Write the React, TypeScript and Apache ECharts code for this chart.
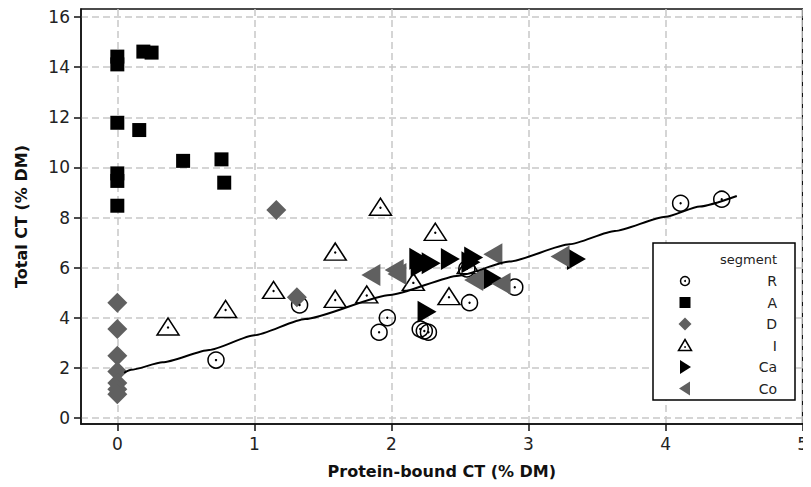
import React, { useEffect, useRef } from "react";
import * as echarts from "echarts";

// Protein-bound CT vs total CT (% DM), grouped by segment
const rPoints: [number, number][] = [
  [0.72, 2.31], [1.33, 4.51], [1.91, 3.42], [1.97, 4.0], [2.21, 3.55],
  [2.24, 3.47], [2.27, 3.42], [2.55, 5.95], [2.57, 4.6], [2.9, 5.22],
  [4.11, 8.57], [4.41, 8.73],
];
const aPoints: [number, number][] = [
  [0, 14.42], [0, 14.11], [0, 11.78], [0, 9.76], [0, 9.46], [0, 8.47],
  [0.19, 14.62], [0.25, 14.58], [0.16, 11.49], [0.48, 10.26], [0.76, 10.32],
  [0.78, 9.39],
];
const dPoints: [number, number][] = [
  [0, 4.6], [0, 3.55], [0, 2.48], [0, 1.85], [0, 1.4], [0, 1.15], [0, 0.95],
  [1.16, 8.3], [1.31, 4.82],
];
const iPoints: [number, number][] = [
  [0.37, 3.65], [0.79, 4.35], [1.14, 5.11], [1.59, 6.64], [1.59, 4.75],
  [1.82, 4.93], [1.92, 8.43], [2.16, 5.43], [2.32, 7.43], [2.42, 4.86],
  [2.56, 6.1],
];
const caPoints: [number, number][] = [
  [2.2, 6.35], [2.21, 6.05], [2.29, 6.17], [2.43, 6.34], [2.58, 6.21],
  [2.6, 6.4], [2.74, 5.57], [2.26, 4.24], [3.35, 6.34],
];
const coPoints: [number, number][] = [
  [1.85, 5.71], [2.02, 5.91], [2.04, 5.75], [2.74, 6.53], [2.6, 5.51],
  [2.8, 5.36], [3.23, 6.44],
];
// fitted trend
const fitLine: [number, number][] = [
  [0.05, 1.8], [0.1, 1.92], [0.33, 2.22], [0.67, 2.71], [1.0, 3.3],
  [1.37, 3.95], [1.99, 4.91], [2.49, 5.68], [2.86, 6.24], [3.3, 6.93],
  [3.63, 7.46], [4.0, 8.03], [4.25, 8.44], [4.52, 8.86],
];

const xTicks = [0, 1, 2, 3, 4, 5];
const yTicks = [0, 2, 4, 6, 8, 10, 12, 14, 16];
const segments = ["R", "A", "D", "I", "Ca", "Co"];

const FONT = "DejaVu Sans";
const GRAY = "#606060";
const RIGHT_TRI = "path://M0,0L10,6L0,12Z";
const LEFT_TRI = "path://M10,0L0,6L10,12Z";

function legendGraphic() {
  const left = 653;
  const top = 243;
  const symX = 685;
  const textX = 777;
  const row0 = 281;
  const step = 21.5;
  const els: any[] = [
    {
      type: "rect",
      shape: { x: left, y: top, width: 142, height: 157 },
      style: { fill: "#fff", stroke: "#000", lineWidth: 1.5 },
      z: 100,
    },
    {
      type: "text",
      x: textX,
      y: 259,
      style: { text: "segment", font: `13px "${FONT}"`, fill: "#222", align: "right", verticalAlign: "middle" },
      z: 101,
    },
  ];
  segments.forEach((name, i) => {
    const cy = row0 + i * step;
    els.push({
      type: "text",
      x: textX,
      y: cy,
      style: { text: name, font: `14px "${FONT}"`, fill: "#222", align: "right", verticalAlign: "middle" },
      z: 101,
    });
    let sym: any[] = [];
    if (name === "R") {
      sym = [
        { type: "circle", shape: { cx: symX, cy, r: 4.5 }, style: { fill: "none", stroke: "#000", lineWidth: 1.5 } },
        { type: "circle", shape: { cx: symX, cy, r: 1 }, style: { fill: "#000" } },
      ];
    } else if (name === "A") {
      sym = [{ type: "rect", shape: { x: symX - 5.5, y: cy - 5.5, width: 11, height: 11 }, style: { fill: "#000" } }];
    } else if (name === "D") {
      sym = [{ type: "polygon", shape: { points: [[symX, cy - 6.5], [symX + 6.5, cy], [symX, cy + 6.5], [symX - 6.5, cy]] }, style: { fill: GRAY } }];
    } else if (name === "I") {
      sym = [
        { type: "polygon", shape: { points: [[symX, cy - 6], [symX + 6.5, cy + 5], [symX - 6.5, cy + 5]] }, style: { fill: "none", stroke: "#000", lineWidth: 1.5 } },
        { type: "circle", shape: { cx: symX, cy: cy + 1.5, r: 0.9 }, style: { fill: "#000" } },
      ];
    } else if (name === "Ca") {
      sym = [{ type: "polygon", shape: { points: [[symX - 5, cy - 7], [symX + 6, cy], [symX - 5, cy + 7]] }, style: { fill: "#000" } }];
    } else {
      sym = [{ type: "polygon", shape: { points: [[symX + 5, cy - 7], [symX - 6, cy], [symX + 5, cy + 7]] }, style: { fill: GRAY } }];
    }
    sym.forEach((s) => els.push({ ...s, z: 101 }));
  });
  return els;
}

export default function App() {
  const ref = useRef<HTMLDivElement>(null);

  useEffect(() => {
    if (!ref.current) return;
    const chart = echarts.init(ref.current, undefined, { renderer: "svg" });

    const dotSeries = (data: [number, number][], offsetY: number) => ({
      type: "scatter",
      data,
      symbol: "circle",
      symbolSize: 2.4,
      symbolOffset: [0, offsetY],
      itemStyle: { color: "#000", opacity: 1 },
      silent: true,
      z: 4,
    });

    chart.setOption({
      animation: false,
      backgroundColor: "#fff",
      grid: {
        left: 81,
        top: 9,
        width: 728,
        height: 415,
        show: true,
        borderColor: "#111",
        borderWidth: 1.5,
        containLabel: false,
      },
      xAxis: {
        type: "value",
        min: -0.265,
        max: 5,
        name: "Protein-bound CT (% DM)",
        nameLocation: "middle",
        nameGap: 39,
        nameTextStyle: { fontFamily: FONT, fontWeight: "bold", fontSize: 16, color: "#111" },
        axisLine: { show: true, onZero: false, lineStyle: { color: "#111", width: 1.5 } },
        axisTick: { show: true, length: 7, customValues: xTicks, lineStyle: { color: "#111", width: 1.5 } },
        axisLabel: { customValues: xTicks, fontFamily: FONT, fontSize: 17, color: "#222", margin: 11 },
        splitLine: { show: true, lineStyle: { color: "#c8c8c8", type: [7, 4], width: 1.5 } },
      },
      yAxis: {
        type: "value",
        min: -0.24,
        max: 16.32,
        name: "Total CT (% DM)",
        nameLocation: "middle",
        nameGap: 52,
        nameTextStyle: { fontFamily: FONT, fontWeight: "bold", fontSize: 16, color: "#111" },
        axisLine: { show: true, onZero: false, lineStyle: { color: "#111", width: 1.5 } },
        axisTick: { show: true, length: 7, customValues: yTicks, lineStyle: { color: "#111", width: 1.5 } },
        axisLabel: { customValues: yTicks, fontFamily: FONT, fontSize: 17, color: "#222", margin: 11 },
        splitLine: { show: true, lineStyle: { color: "#c8c8c8", type: [7, 4], width: 1.5 } },
      },
      series: [
        {
          name: "R",
          type: "scatter",
          data: rPoints,
          symbol: "circle",
          symbolSize: 16,
          itemStyle: { color: "rgba(0,0,0,0)", borderColor: "#000", borderWidth: 1.5, opacity: 1 },
          z: 2,
        },
        dotSeries(rPoints, 0),
        {
          name: "A",
          type: "scatter",
          data: aPoints,
          symbol: "rect",
          symbolSize: 14,
          itemStyle: { color: "#000", opacity: 1 },
          z: 2,
        },
        {
          name: "D",
          type: "scatter",
          data: dPoints,
          symbol: "diamond",
          symbolSize: 20,
          itemStyle: { color: GRAY, opacity: 1 },
          z: 2,
        },
        {
          name: "I",
          type: "scatter",
          data: iPoints,
          symbol: "triangle",
          symbolSize: [22, 17],
          itemStyle: { color: "rgba(0,0,0,0)", borderColor: "#000", borderWidth: 1.5, opacity: 1 },
          z: 2,
        },
        dotSeries(iPoints, 1),
        {
          name: "Ca",
          type: "scatter",
          data: caPoints,
          symbol: RIGHT_TRI,
          symbolKeepAspect: false,
          symbolSize: [19, 22],
          itemStyle: { color: "#000", opacity: 1 },
          z: 3,
        },
        {
          name: "Co",
          type: "scatter",
          data: coPoints,
          symbol: LEFT_TRI,
          symbolKeepAspect: false,
          symbolSize: [19, 22],
          itemStyle: { color: GRAY, opacity: 1 },
          z: 3,
        },
        {
          name: "fit",
          type: "line",
          data: fitLine,
          showSymbol: false,
          smooth: 0.2,
          smoothMonotone: "x",
          lineStyle: { color: "#000", width: 2 },
          silent: true,
          z: 5,
        },
      ],
      graphic: legendGraphic(),
    });

    return () => chart.dispose();
  }, []);

  return <div ref={ref} style={{ width: 811, height: 487, marginLeft: -8, marginTop: -8 }} />;
}
